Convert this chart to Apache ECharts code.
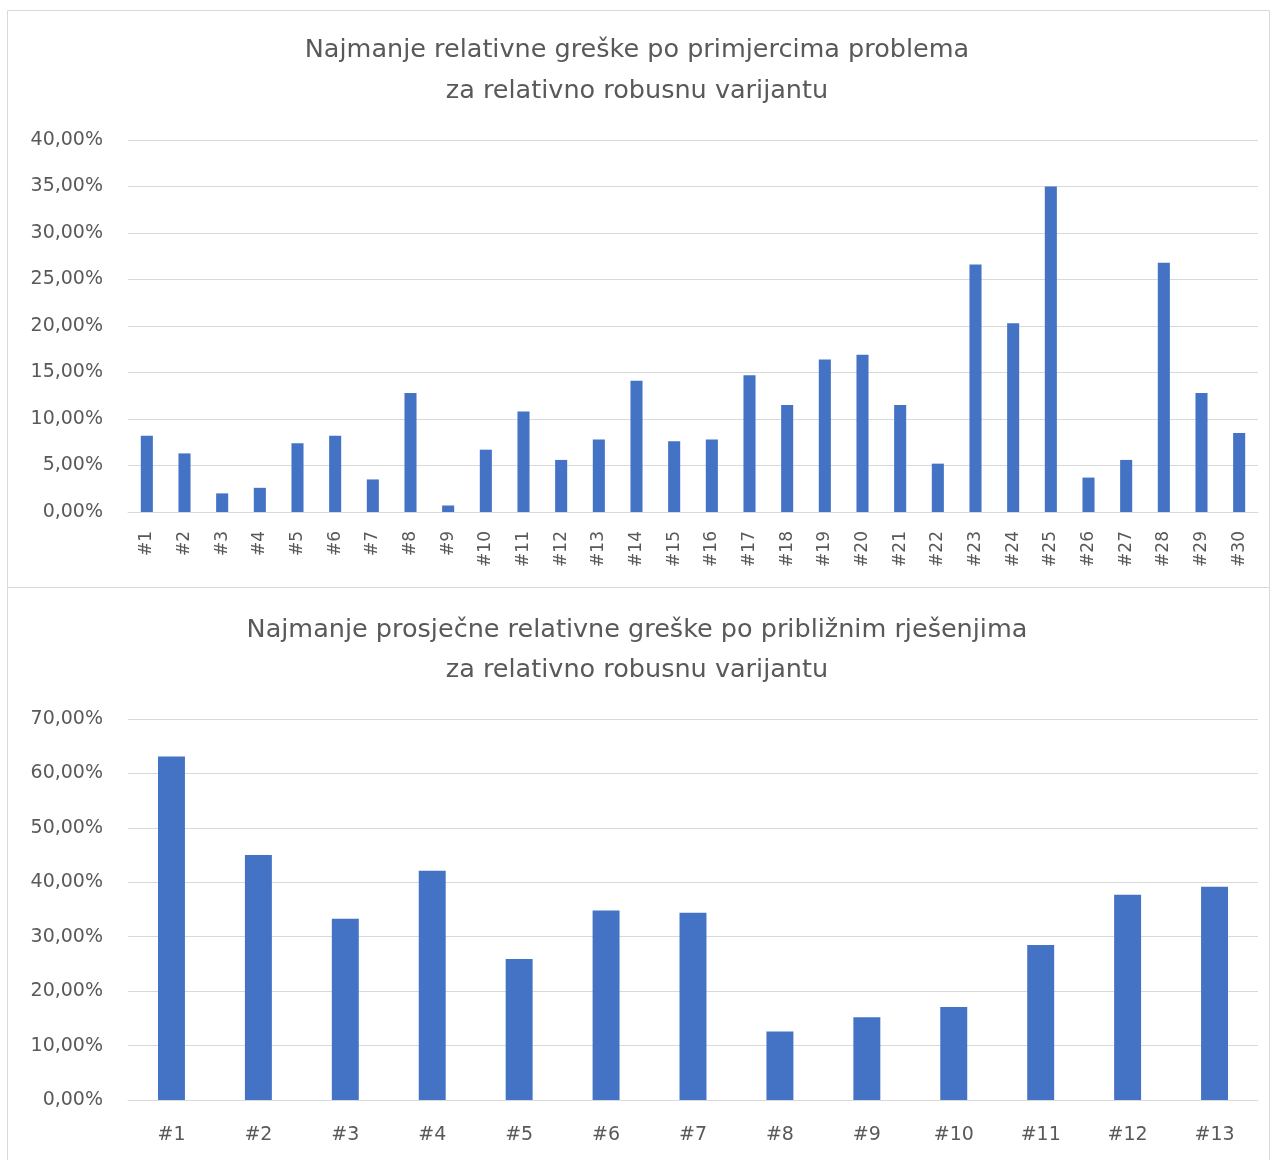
<!DOCTYPE html>
<html>
<head>
<meta charset="utf-8">
<style>
  html, body { margin: 0; padding: 0; background: #fff; }
  #container { width: 1274px; height: 1160px; }
</style>
<script src="https://cdn.jsdelivr.net/npm/echarts@6/dist/echarts.min.js"></script>
</head>
<body>
<div id="container"></div>
<script>
var dom = document.getElementById('container');
var myChart = echarts.init(dom, null, { renderer: 'canvas' });

// gornji graf: po primjercima problema
const instanceLabels = ['#1', '#2', '#3', '#4', '#5', '#6', '#7', '#8', '#9', '#10',
  '#11', '#12', '#13', '#14', '#15', '#16', '#17', '#18', '#19', '#20',
  '#21', '#22', '#23', '#24', '#25', '#26', '#27', '#28', '#29', '#30'];
const instanceErrors = [8.2, 6.3, 2.0, 2.6, 7.4, 8.2, 3.5, 12.8, 0.7, 6.7,
  10.8, 5.6, 7.8, 14.1, 7.6, 7.8, 14.7, 11.5, 16.4, 16.9,
  11.5, 5.2, 26.6, 20.3, 35.0, 3.7, 5.6, 26.8, 12.8, 8.5];

// donji graf: po približnim rješenjima
const solutionLabels = ['#1', '#2', '#3', '#4', '#5', '#6', '#7', '#8', '#9', '#10', '#11', '#12', '#13'];
const solutionErrors = [63.1, 45.0, 33.3, 42.1, 25.9, 34.8, 34.4, 12.6, 15.2, 17.1, 28.5, 37.7, 39.2];

const titleTop = 'Najmanje relativne greške po primjercima problema\nza relativno robusnu varijantu';
const titleBottom = 'Najmanje prosječne relativne greške po približnim rješenjima\nza relativno robusnu varijantu';

const barColor = '#4472C4';
const textColor = '#595959';
const gridColor = '#d9d9d9';
const font = 'DejaVu Sans';

function pct(v) {
  return v.toFixed(2).replace('.', ',') + '%';
}

var option = {
  animation: false,
  textStyle: { fontFamily: font },
  graphic: [
    { type: 'rect', shape: { x: 7.5, y: 10.5, width: 1262, height: 577 },
      style: { fill: 'none', stroke: gridColor, lineWidth: 1 } },
    { type: 'rect', shape: { x: 7.5, y: 587.5, width: 1262, height: 580 },
      style: { fill: 'none', stroke: gridColor, lineWidth: 1 } }
  ],
  title: [
    { text: titleTop, left: 'center', top: 25,
      textStyle: { fontFamily: font, fontSize: 25.5, fontWeight: 'normal', color: textColor, lineHeight: 41 } },
    { text: titleBottom, left: 'center', top: 605,
      textStyle: { fontFamily: font, fontSize: 25.5, fontWeight: 'normal', color: textColor, lineHeight: 40 } }
  ],
  grid: [
    { left: 128, right: 16, top: 140, height: 372 },
    { left: 128, right: 16, top: 719, height: 381 }
  ],
  xAxis: [
    { type: 'category', gridIndex: 0, data: instanceLabels,
      axisLine: { lineStyle: { color: gridColor } }, axisTick: { show: false },
      axisLabel: { rotate: 90, color: textColor, fontSize: 17, margin: 19, fontFamily: font } },
    { type: 'category', gridIndex: 1, data: solutionLabels,
      axisLine: { lineStyle: { color: gridColor } }, axisTick: { show: false },
      axisLabel: { color: textColor, fontSize: 19, margin: 26, fontFamily: font } }
  ],
  yAxis: [
    { type: 'value', gridIndex: 0, min: 0, max: 40, interval: 5,
      axisLine: { show: false }, axisTick: { show: false },
      splitLine: { lineStyle: { color: gridColor } },
      axisLabel: { color: textColor, fontSize: 19, margin: 25, formatter: pct, fontFamily: font } },
    { type: 'value', gridIndex: 1, min: 0, max: 70, interval: 10,
      axisLine: { show: false }, axisTick: { show: false },
      splitLine: { lineStyle: { color: gridColor } },
      axisLabel: { color: textColor, fontSize: 19, margin: 25, formatter: pct, fontFamily: font } }
  ],
  series: [
    { type: 'bar', xAxisIndex: 0, yAxisIndex: 0, data: instanceErrors,
      barCategoryGap: '68%', itemStyle: { color: barColor } },
    { type: 'bar', xAxisIndex: 1, yAxisIndex: 1, data: solutionErrors,
      barCategoryGap: '69%', itemStyle: { color: barColor } }
  ]
};

myChart.setOption(option);
window.addEventListener('resize', myChart.resize);
</script>
</body>
</html>
